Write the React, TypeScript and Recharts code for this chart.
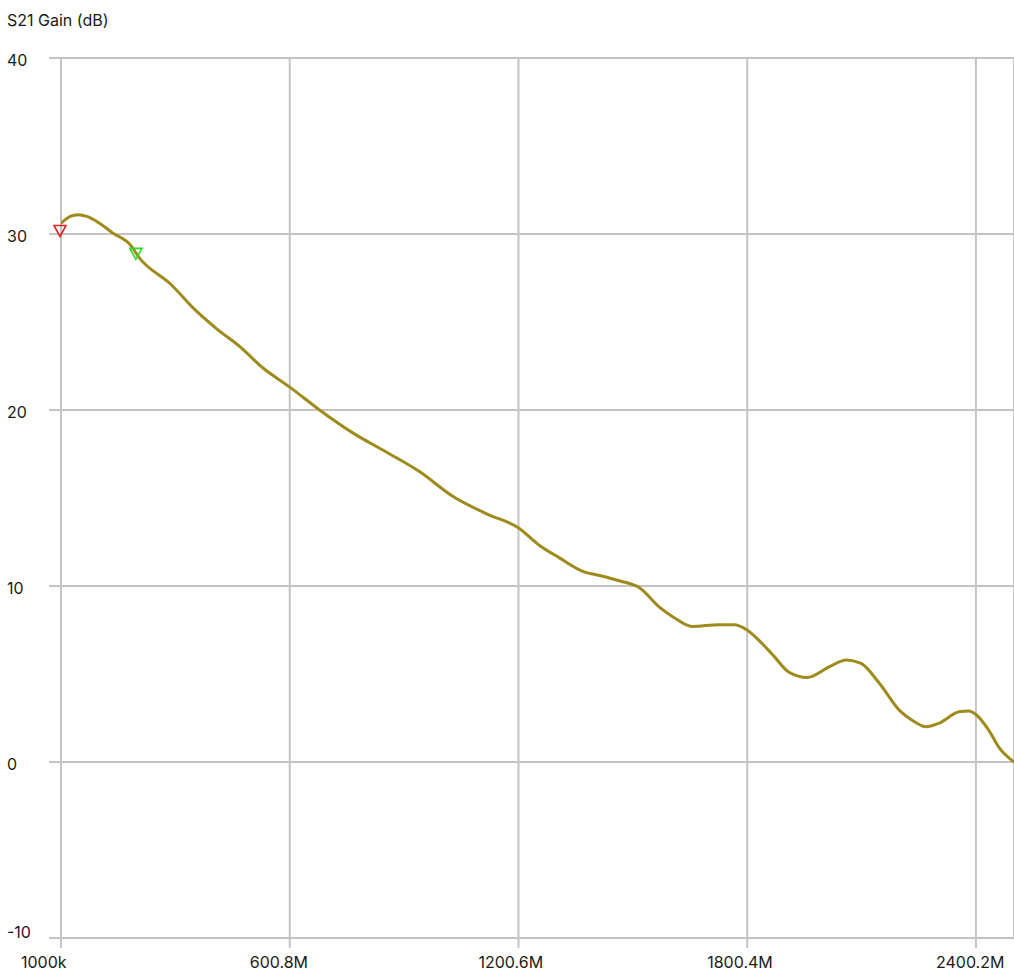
import React from 'react'
import {
    ComposedChart,
    Line,
    XAxis,
    YAxis,
    CartesianGrid,
    ReferenceDot
} from 'recharts'

// trace readings: frequency (MHz) and S21 gain (dB)
const freqMHz = [
    1, 25, 46, 69, 103, 137, 182, 208, 286, 357, 410, 470, 530, 601,
    679, 766, 855, 941, 1028, 1117, 1201, 1256, 1308, 1373, 1413, 1465,
    1518, 1570, 1609, 1656, 1727, 1766, 1800, 1832, 1871, 1910, 1958,
    2015, 2060, 2099, 2146, 2199, 2238, 2269, 2303, 2356, 2382, 2400,
    2434, 2460, 2500
]
const gainDb = [
    30.6, 31.0, 31.1, 31.0, 30.6, 30.05, 29.4, 28.6, 27.2, 25.6, 24.6, 23.6, 22.4, 21.3,
    20.0, 18.7, 17.6, 16.5, 15.1, 14.1, 13.3, 12.3, 11.6, 10.8, 10.6, 10.3,
    9.9, 8.8, 8.2, 7.7, 7.8, 7.8, 7.5, 6.9, 6.0, 5.1, 4.8,
    5.4, 5.8, 5.6, 4.5, 2.95, 2.3, 2.0, 2.2, 2.85, 2.9, 2.7,
    1.8, 0.85, 0.0
]

// markers
const markerFreq = [1, 200]
const markerGain = [30.2, 28.9]
const markerColors = ['#e02424', '#35d62a']

const xTicks = [1, 600.8, 1200.6, 1800.4, 2400.2]
const xTickLabels = ['1000k', '600.8M', '1200.6M', '1800.4M', '2400.2M']
const yTicks = [-10, 0, 10, 20, 30, 40]

const data = freqMHz.map((f, i) => ({ f, gain: gainDb[i] }))

const FONT = 'Inter, "Liberation Sans", Arial, sans-serif'
const GRID = '#c4c4c4'

const XTick = (props: any) => {
    const { x, y, payload } = props
    const idx = xTicks.indexOf(payload.value)
    return (
        <text x={x - 40} y={y} dy={20} fill="#1a1a1a" fontSize={16} fontFamily={FONT} textAnchor="start">
            {xTickLabels[idx] ?? payload.value}
        </text>
    )
}

const YTick = (props: any) => {
    const { y, payload } = props
    return (
        <text x={7} y={y} dy={payload.value === -10 ? 0 : 8} fill="#1a1a1a" fontSize={16} fontFamily={FONT} textAnchor="start">
            {payload.value}
        </text>
    )
}

const Marker = (props: any) => {
    const { cx, cy, color } = props
    const pts = `${cx - 7},${cy - 5} ${cx + 5},${cy - 5} ${cx - 1},${cy + 6}`
    return <polygon points={pts} fill="none" stroke={color} strokeWidth={1.6} />
}

const S21Chart = () => {
    return (
        <div style={{ position: 'absolute', left: 0, top: 0, width: 1014, height: 976, background: '#fff' }}>
            <div style={{ position: 'absolute', left: 7, top: 10, fontFamily: FONT, fontSize: 16, color: '#1a1a1a' }}>
                S21 Gain (dB)
            </div>
            <ComposedChart
                width={1014}
                height={976}
                data={data}
                margin={{ top: 58, right: 0, left: 0, bottom: 0 }}
            >
                <CartesianGrid stroke={GRID} strokeWidth={2} />
                <XAxis
                    dataKey="f"
                    type="number"
                    domain={[1, 2500]}
                    ticks={xTicks}
                    allowDataOverflow
                    axisLine={false}
                    tickLine={{ stroke: GRID, strokeWidth: 2 }}
                    tickSize={10}
                    tickMargin={0}
                    height={38}
                    tick={<XTick />}
                    interval={0}
                />
                <XAxis
                    xAxisId="top"
                    orientation="top"
                    dataKey="f"
                    type="number"
                    domain={[1, 2500]}
                    ticks={xTicks}
                    allowDataOverflow
                    axisLine={false}
                    tickLine={{ stroke: GRID, strokeWidth: 2 }}
                    tickSize={11}
                    height={0}
                    tick={() => <g />}
                    interval={0}
                />
                <YAxis
                    type="number"
                    domain={[-10, 40]}
                    ticks={yTicks}
                    axisLine={false}
                    tickLine={{ stroke: GRID, strokeWidth: 2 }}
                    tickSize={12}
                    tickMargin={0}
                    width={61}
                    tick={<YTick />}
                    interval={0}
                />
                <Line
                    type="monotone"
                    dataKey="gain"
                    stroke="#9e8b1c"
                    strokeWidth={3}
                    dot={false}
                    isAnimationActive={false}
                />
                {markerFreq.map((f, i) => (
                    <ReferenceDot
                        key={i}
                        x={f}
                        y={markerGain[i]}
                        shape={(p: any) => <Marker {...p} color={markerColors[i]} />}
                    />
                ))}
            </ComposedChart>
        </div>
    )
}

export default S21Chart
